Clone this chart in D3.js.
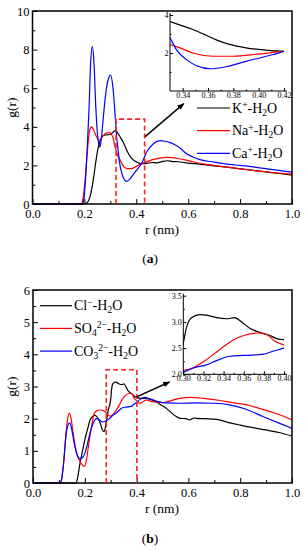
<!DOCTYPE html>
<html>
<head>
<meta charset="utf-8">
<script src="https://cdn.jsdelivr.net/npm/d3@7"></script>
<style>
	body{ margin:0; background:#fff; }
	svg text{ font-family:"Liberation Serif","DejaVu Serif",serif !important; fill:#000; }
	.frame{ fill:none; stroke:#000; stroke-width:1.5px; }
	.curve{ fill:none; stroke-width:1.2px; }
	.axis path{ display:none; }
	.axis line{ stroke:#000; stroke-width:1px; }
</style>
</head>
<body>
<script>
// ---- panel (a): cation - water g(r), [r (nm), g(r)]
var kH2O = [[0,0],[0.198,0],[0.209,0.05],[0.2216,0.38],[0.234,1.24],[0.244,2.2],[0.254,2.97],[0.263,3.35],[0.273,3.55],[0.286,3.58],[0.299,3.6],[0.31,3.72],[0.318,3.8],[0.325,3.75],[0.33,3.65],[0.338,3.47],[0.348,3.24],[0.356,3.01],[0.367,2.68],[0.377,2.45],[0.39,2.27],[0.404,2.16],[0.42,2.09],[0.44,2.1],[0.46,2.15],[0.48,2.13],[0.5,2.2],[0.52,2.24],[0.54,2.2],[0.56,2.19],[0.6,2.12],[0.645,2.07],[0.7,1.98],[0.786,1.85],[0.85,1.74],[0.9,1.66],[0.95,1.58],[1.0,1.5]];
var naH2O = [[0,0],[0.185,0],[0.19,0.05],[0.197,0.5],[0.203,1.3],[0.21,2.5],[0.217,3.5],[0.222,3.9],[0.228,4.0],[0.235,3.85],[0.243,3.6],[0.252,3.35],[0.26,3.3],[0.27,3.5],[0.286,3.69],[0.297,3.7],[0.305,3.6],[0.312,3.35],[0.318,2.97],[0.324,2.7],[0.33,2.45],[0.338,2.27],[0.348,2.0],[0.364,1.83],[0.38,1.83],[0.40,1.95],[0.42,2.09],[0.44,2.18],[0.466,2.31],[0.49,2.38],[0.517,2.42],[0.54,2.4],[0.556,2.37],[0.6,2.25],[0.645,2.11],[0.7,2.0],[0.786,1.85],[0.85,1.74],[0.9,1.67],[0.95,1.6],[1.0,1.55]];
var caH2O = [[0,0],[0.19,0],[0.196,0.1],[0.206,1.6],[0.212,3.2],[0.218,5.0],[0.224,7.3],[0.2305,8.15],[0.237,7.3],[0.244,5.0],[0.252,3.4],[0.26,2.95],[0.266,3.5],[0.275,4.8],[0.285,6.0],[0.293,6.5],[0.301,6.68],[0.311,5.9],[0.318,4.7],[0.324,3.5],[0.33,2.8],[0.335,2.18],[0.343,1.65],[0.351,1.33],[0.362,1.17],[0.375,1.29],[0.39,1.56],[0.406,1.83],[0.42,2.09],[0.44,2.69],[0.466,3.12],[0.491,3.28],[0.51,3.25],[0.53,3.18],[0.545,3.1],[0.562,2.97],[0.594,2.6],[0.62,2.42],[0.645,2.3],[0.7,2.17],[0.76,2.05],[0.8,2.0],[0.85,1.92],[0.9,1.83],[0.95,1.74],[1.0,1.65]];

// ---- panel (b): anion - water g(r)
var clH2O = [[0,0],[0.165,0],[0.172,0.15],[0.18,0.55],[0.19,0.95],[0.2,1.35],[0.21,1.65],[0.22,1.95],[0.23,2.07],[0.24,2.1],[0.25,2.02],[0.26,1.85],[0.268,1.65],[0.275,1.6],[0.282,1.85],[0.29,2.25],[0.30,2.6],[0.303,2.88],[0.308,3.08],[0.317,3.14],[0.323,3.13],[0.333,3.08],[0.343,3.06],[0.351,3.08],[0.358,3.0],[0.366,2.88],[0.376,2.8],[0.386,2.74],[0.393,2.68],[0.40,2.66],[0.41,2.64],[0.425,2.63],[0.44,2.62],[0.452,2.6],[0.47,2.55],[0.49,2.45],[0.51,2.35],[0.53,2.22],[0.55,2.08],[0.568,2.01],[0.59,2.0],[0.606,1.96],[0.62,2.02],[0.632,2.01],[0.66,2.0],[0.71,1.98],[0.76,1.87],[0.8,1.8],[0.85,1.72],[0.9,1.65],[0.95,1.57],[1.0,1.46]];
var so4H2O = [[0,0],[0.105,0],[0.11,0.1],[0.118,0.6],[0.126,1.4],[0.133,1.95],[0.14,2.17],[0.147,2.0],[0.155,1.55],[0.165,1.05],[0.175,0.78],[0.188,0.58],[0.198,0.51],[0.206,0.7],[0.215,1.2],[0.226,1.75],[0.236,2.15],[0.245,2.24],[0.258,2.27],[0.272,2.25],[0.284,2.17],[0.292,2.1],[0.30,2.08],[0.31,2.13],[0.323,2.28],[0.336,2.47],[0.35,2.66],[0.36,2.74],[0.376,2.79],[0.383,2.76],[0.391,2.63],[0.40,2.56],[0.41,2.48],[0.42,2.5],[0.438,2.58],[0.46,2.53],[0.503,2.5],[0.55,2.6],[0.606,2.66],[0.66,2.63],[0.71,2.58],[0.77,2.5],[0.826,2.43],[0.87,2.33],[0.916,2.22],[0.96,2.1],[1.0,1.96]];
var co3H2O = [[0,0],[0.105,0],[0.11,0.1],[0.118,0.6],[0.127,1.45],[0.134,1.78],[0.142,1.87],[0.15,1.65],[0.16,1.2],[0.17,0.88],[0.18,0.76],[0.19,0.78],[0.2,0.92],[0.21,1.2],[0.22,1.55],[0.232,1.85],[0.245,2.0],[0.258,1.95],[0.268,1.9],[0.28,1.92],[0.29,1.97],[0.30,2.04],[0.31,2.12],[0.323,2.18],[0.333,2.26],[0.345,2.34],[0.36,2.36],[0.379,2.38],[0.389,2.44],[0.40,2.5],[0.413,2.6],[0.432,2.66],[0.45,2.62],[0.464,2.58],[0.503,2.5],[0.568,2.48],[0.63,2.49],[0.696,2.48],[0.76,2.43],[0.82,2.3],[0.89,2.06],[0.95,1.86],[1.0,1.70]];

// legend labels: [text, "sup" | "sub" | ""]
var labelsA = [
	[["K",""],["+","sup"],["-H",""],["2","sub"],["O",""]],
	[["Na",""],["+","sup"],["-H",""],["2","sub"],["O",""]],
	[["Ca",""],["+","sup"],["-H",""],["2","sub"],["O",""]]
];
var labelsB = [
	[["Cl",""],["\u2212","sup"],["-H",""],["2","sub"],["O",""]],
	[["SO",""],["4","sub"],["2\u2212","sup"],["-H",""],["2","sub"],["O",""]],
	[["CO",""],["3","sub"],["2\u2212","sup"],["-H",""],["2","sub"],["O",""]]
];
var colors = ["#000000", "#ff0000", "#0000ff"];

var xTicksMain = [0, 0.2, 0.4, 0.6, 0.8, 1.0];
var yTicksA = [0, 2, 4, 6, 8, 10];
var yTicksB = [0, 1, 2, 3, 4, 5, 6];
var insetXTicksA = [0.34, 0.36, 0.38, 0.40, 0.42];
var insetYTicksA = [2, 4];
var insetXTicksB = [0.30, 0.32, 0.34, 0.36, 0.38, 0.40];
var insetYTicksB = [2.0, 2.5, 3.0, 3.5];

var serif = '"Liberation Serif","DejaVu Serif",serif';

var svg = d3.select("body").append("svg")
	.attr("width", 305)
	.attr("height", 550);

var defs = svg.append("defs");
defs.append("marker")
	.attr("id", "arrow")
	.attr("viewBox", "0 0 10 10")
	.attr("refX", 9).attr("refY", 5)
	.attr("markerWidth", 5).attr("markerHeight", 5)
	.attr("orient", "auto")
	.append("path")
	.attr("d", "M0,1L10,5L0,9Z")
	.attr("fill", "#000");

var line = d3.line().curve(d3.curveMonotoneX);

function addLabel(sel, parts, size){
	var shift = 0;
	parts.forEach(function(p){
		var target = p[1] == "sup" ? -4.5 : (p[1] == "sub" ? 3 : 0);
		sel.append("tspan")
			.attr("dy", target - shift)
			.style("font-size", p[1] ? (size * 0.68) + "px" : size + "px")
			.text(p[0]);
		shift = target;
	});
}

function tickText(sel, size){
	sel.selectAll("text")
		.attr("font-family", serif)
		.style("font-size", size + "px");
}

function drawPanel(p){
	var g = svg.append("g");
	var x = d3.scaleLinear().domain([0, 1]).range([p.left, p.right]);
	var y = d3.scaleLinear().domain(p.yDomain).range([p.bottom, p.top]);
	line.x(function(d){ return x(d[0]); }).y(function(d){ return y(d[1]); });

	p.series.forEach(function(s, i){
		g.append("path").attr("class", "curve")
			.attr("d", line(s)).attr("stroke", colors[i]);
	});

	// minor + major ticks, inside
	g.append("g").attr("class", "axis")
		.attr("transform", "translate(0," + p.bottom + ")")
		.call(d3.axisBottom(x).tickValues(d3.range(0.1, 1, 0.2)).tickSize(-3).tickFormat(""));
	g.append("g").attr("class", "axis")
		.attr("transform", "translate(0," + p.bottom + ")")
		.call(d3.axisBottom(x).tickValues(xTicksMain).tickSize(-5).tickPadding(5).tickFormat(d3.format(".1f")))
		.call(tickText, 12.5);
	g.append("g").attr("class", "axis")
		.attr("transform", "translate(" + p.left + ",0)")
		.call(d3.axisLeft(y).tickValues(p.yMinor).tickSize(-3).tickFormat(""));
	g.append("g").attr("class", "axis")
		.attr("transform", "translate(" + p.left + ",0)")
		.call(d3.axisLeft(y).tickValues(p.yTicks).tickSize(-5).tickPadding(3).tickFormat(d3.format("d")))
		.call(tickText, 12.5);

	g.append("rect").attr("class", "frame")
		.attr("x", p.left).attr("y", p.top)
		.attr("width", p.right - p.left).attr("height", p.bottom - p.top);

	// dashed zoom box
	var b = p.box;
	g.append("path")
		.attr("d", "M" + x(b[0]) + "," + y(0) + "V" + y(b[2]) + "H" + x(b[1]) + "V" + y(0))
		.attr("fill", "none").attr("stroke", "#ff2020")
		.attr("stroke-width", 1.6).attr("stroke-dasharray", "5,3");

	g.append("line")
		.attr("x1", x(p.arrow[0])).attr("y1", y(p.arrow[1]))
		.attr("x2", x(p.arrow[2])).attr("y2", y(p.arrow[3]))
		.attr("stroke", "#000").attr("stroke-width", 1.4)
		.attr("marker-end", "url(#arrow)");

	// legend
	p.labels.forEach(function(lab, i){
		var ly = p.legend[1] + i * p.legend[3];
		g.append("line")
			.attr("x1", p.legend[0]).attr("x2", p.legend[0] + p.legend[2])
			.attr("y1", ly).attr("y2", ly)
			.attr("stroke", colors[i]).attr("stroke-width", 1.2);
		var t = g.append("text")
			.attr("x", p.legend[0] + p.legend[2] + 2).attr("y", ly + 4.5);
		addLabel(t, lab, 14);
	});

	g.append("text")
		.attr("transform", "translate(16," + ((p.top + p.bottom) / 2) + ") rotate(-90)")
		.attr("text-anchor", "middle").style("font-size", "13.5px").text("g(r)");
	g.append("text")
		.attr("x", 162).attr("y", p.bottom + 30)
		.attr("text-anchor", "middle").style("font-size", "13.5px").text("r (nm)");
	var cap = g.append("text")
		.attr("x", 150).attr("y", p.capY)
		.attr("text-anchor", "middle").style("font-size", "13.5px");
	cap.append("tspan").text("(");
	cap.append("tspan").style("font-weight", "bold").text(p.cap);
	cap.append("tspan").text(")");

	// inset
	var q = p.inset;
	var ix = d3.scaleLinear().domain(q.xDomain).range([q.left, q.right]);
	var iy = d3.scaleLinear().domain(q.yDomain).range([q.bottom, q.top]);
	var clipId = "clip" + p.cap;
	defs.append("clipPath").attr("id", clipId).append("rect")
		.attr("x", q.left).attr("y", q.top - 2)
		.attr("width", q.right - q.left).attr("height", q.bottom - q.top + 2);
	var ig = g.append("g");
	line.x(function(d){ return ix(d[0]); }).y(function(d){ return iy(d[1]); });
	p.series.forEach(function(s, i){
		ig.append("path").attr("class", "curve")
			.attr("clip-path", "url(#" + clipId + ")")
			.attr("d", line(s)).attr("stroke", colors[i]);
	});
	ig.append("g").attr("class", "axis")
		.attr("transform", "translate(0," + q.bottom + ")")
		.call(d3.axisBottom(ix).tickValues(q.xMinor).tickSize(-1.5).tickFormat(""));
	ig.append("g").attr("class", "axis")
		.attr("transform", "translate(0," + q.bottom + ")")
		.call(d3.axisBottom(ix).tickValues(q.xTicks).tickSize(-3).tickPadding(1.5).tickFormat(d3.format(".2f")))
		.call(tickText, 8);
	ig.append("g").attr("class", "axis")
		.attr("transform", "translate(" + q.left + ",0)")
		.call(d3.axisLeft(iy).tickValues(q.yMinor).tickSize(-1.5).tickFormat(""));
	ig.append("g").attr("class", "axis")
		.attr("transform", "translate(" + q.left + ",0)")
		.call(d3.axisLeft(iy).tickValues(q.yTicks).tickSize(-3).tickPadding(1.5).tickFormat(q.fmt))
		.call(tickText, 8);
	ig.append("path")
		.attr("d", "M" + q.left + "," + (q.top - 2) + "V" + q.bottom + "H" + (q.right + 3))
		.attr("fill", "none").attr("stroke", "#000").attr("stroke-width", 1);
}

drawPanel({
	left: 32.5, right: 292, top: 11, bottom: 204,
	yDomain: [0, 10], yTicks: yTicksA, yMinor: [1, 3, 5, 7, 9],
	series: [kH2O, naH2O, caH2O],
	box: [0.322, 0.432, 4.4],
	arrow: [0.434, 3.49, 0.583, 5.2],
	legend: [197, 108, 33, 22.7],
	labels: labelsA,
	cap: "a", capY: 263,
	inset: {
		left: 170, right: 284, top: 15, bottom: 91,
		xDomain: [0.33, 0.42], yDomain: [0, 4],
		xTicks: insetXTicksA, xMinor: [0.35, 0.37, 0.39, 0.41],
		yTicks: insetYTicksA, yMinor: [1, 3], fmt: d3.format("d")
	}
});

drawPanel({
	left: 33, right: 292, top: 290, bottom: 483,
	yDomain: [0, 6], yTicks: yTicksB, yMinor: [0.5, 1.5, 2.5, 3.5, 4.5, 5.5],
	series: [clH2O, so4H2O, co3H2O],
	box: [0.283, 0.401, 3.52],
	arrow: [0.40, 2.68, 0.527, 3.14],
	legend: [40, 305.7, 32, 22.7],
	labels: labelsB,
	cap: "b", capY: 543,
	inset: {
		left: 183.3, right: 284, top: 295.7, bottom: 374.3,
		xDomain: [0.30, 0.40], yDomain: [2.0, 3.5],
		xTicks: insetXTicksB, xMinor: [0.31, 0.33, 0.35, 0.37, 0.39],
		yTicks: insetYTicksB, yMinor: [2.25, 2.75, 3.25], fmt: d3.format(".1f")
	}
});
</script>
</body>
</html>
